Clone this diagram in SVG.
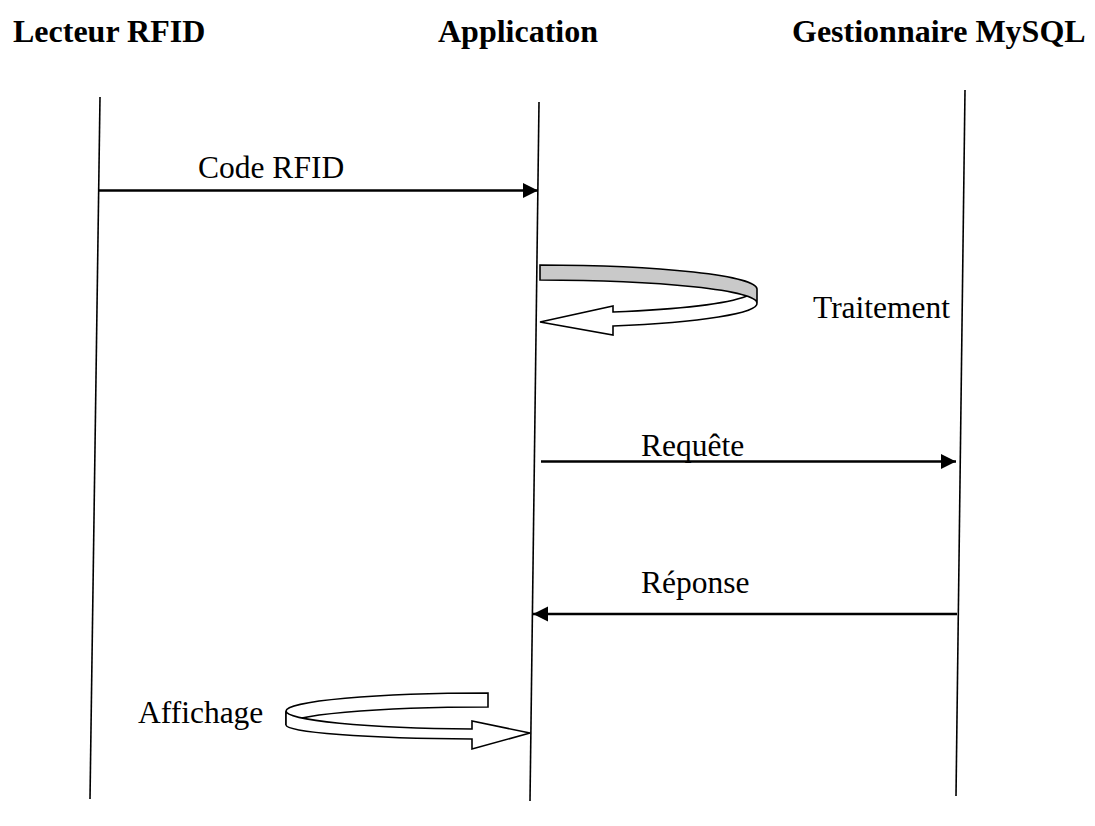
<svg xmlns="http://www.w3.org/2000/svg" width="1095" height="826" viewBox="0 0 1095 826">
  <style>
    .hdr { font-family: "Liberation Serif", "Times New Roman", serif; font-size: 32px; font-weight: bold; fill: #000; }
    .lbl { font-family: "Liberation Serif", "Times New Roman", serif; font-size: 31.5px; fill: #000; }
    .life { stroke: #000; stroke-width: 1.6; fill: none; }
    .msg { stroke: #000; stroke-width: 2.4; fill: none; marker-end: url(#ah); }
    .shape { stroke: #000; stroke-width: 1.6; stroke-linejoin: miter; }
  </style>
  <defs>
    <marker id="ah" markerUnits="userSpaceOnUse" markerWidth="16" markerHeight="16" refX="15" refY="7.5" orient="auto" viewBox="0 0 16 16">
      <path d="M0,0 L15,7.5 L0,15 Z" fill="#000"/>
    </marker>
  </defs>
  <rect width="1095" height="826" fill="#fff"/>

  <g id="lecteur">
    <text class="hdr" x="13" y="42">Lecteur RFID</text>
    <line class="life" x1="100" y1="97" x2="90" y2="799"/>
  </g>
  <g id="application">
    <text class="hdr" x="438" y="42">Application</text>
    <line class="life" x1="539" y1="102" x2="530" y2="801"/>
  </g>
  <g id="gestionnaire">
    <text class="hdr" x="792" y="42">Gestionnaire MySQL</text>
    <line class="life" x1="965" y1="90" x2="956" y2="796"/>
  </g>

  <g id="connectors">
    <line class="msg" x1="99" y1="190.5" x2="538" y2="190.5"/>
    <text class="lbl" x="198" y="178">Code RFID</text>
    <line class="msg" x1="541" y1="461.5" x2="956" y2="461.5"/>
    <text class="lbl" x="641" y="456">Requête</text>
    <line class="msg" x1="957" y1="614" x2="533" y2="614"/>
    <text class="lbl" x="641" y="593">Réponse</text>
  </g>

  <g id="traitement">
    <path class="shape" fill="#fff" d="M757,303 A217,24 0 0 1 613,326 L613,335 L540,322 L613,306 L613,312 A217,24 0 0 0 747,296"/>
    <path class="shape" fill="#c9c9c9" d="M540,265 A217,24 0 0 1 757,289 L757,303 A217,23 0 0 0 540,280 Z"/>
    <text class="lbl" x="813" y="318">Traitement</text>
  </g>

  <g id="affichage">
    <path class="shape" fill="#fff" d="M488,693 A202,18 0 0 0 286,711 L286,725 A202,18 0 0 1 488,707 Z"/>
    <path class="shape" fill="#fff" d="M286,711 A202,18 0 0 0 472,729 L472,721 L530,733 L472,749 L472,739 A202,14 0 0 1 286,725 Z"/>
    <text class="lbl" x="138" y="723">Affichage</text>
  </g>
</svg>
